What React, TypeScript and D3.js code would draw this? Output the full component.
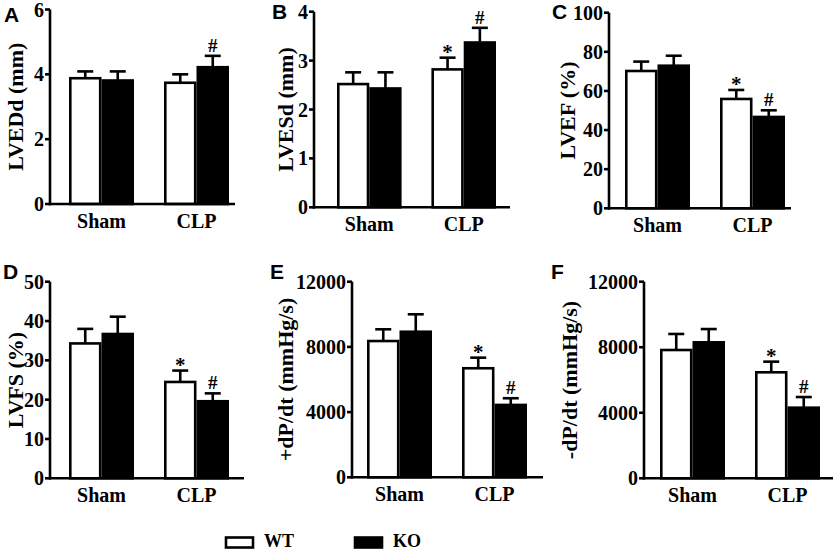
import React from "react";
import * as d3 from "d3";

const groups = ["Sham", "CLP"];
const series = ["WT", "KO"];

// values per panel: [Sham, CLP]
const lveddWT = [3.88, 3.74];
const lveddKO = [3.81, 4.22];
const lveddErrWT = [0.21, 0.26];
const lveddErrKO = [0.28, 0.35];

const lvesdWT = [2.52, 2.82];
const lvesdKO = [2.43, 3.37];
const lvesdErrWT = [0.24, 0.24];
const lvesdErrKO = [0.33, 0.3];

const lvefWT = [70.2, 55.9];
const lvefKO = [72.9, 46.7];
const lvefErrWT = [4.8, 4.6];
const lvefErrKO = [5.1, 3.4];

const lvfsWT = [34.3, 24.5];
const lvfsKO = [36.7, 19.6];
const lvfsErrWT = [3.7, 2.9];
const lvfsErrKO = [4.4, 2.0];

const dpdtPosWT = [8360, 6690];
const dpdtPosKO = [8930, 4440];
const dpdtPosErrWT = [720, 650];
const dpdtPosErrKO = [1070, 410];

const dpdtNegWT = [7830, 6470];
const dpdtNegKO = [8300, 4310];
const dpdtNegErrWT = [980, 650];
const dpdtNegErrKO = [810, 650];

// significance marks [Sham, CLP]
const marksA_WT = ["", ""];
const marksA_KO = ["", "#"];
const marksWT = ["", "*"];
const marksKO = ["", "#"];

const ticksA = [0, 2, 4, 6];
const ticksB = [0, 1, 2, 3, 4];
const ticksC = [0, 20, 40, 60, 80, 100];
const ticksD = [0, 10, 20, 30, 40, 50];
const ticksE = [0, 4000, 8000, 12000];
const ticksF = [0, 4000, 8000, 12000];

const labels = ["LVEDd (mm)", "LVESd (mm)", "LVEF (%)", "LVFS (%)", "+dP/dt (mmHg/s)", "-dP/dt (mmHg/s)"];
const letters = ["A", "B", "C", "D", "E", "F"];

type Panel = {
  letter: string;
  label: string;
  ticks: number[];
  wt: number[];
  ko: number[];
  ewt: number[];
  eko: number[];
  mwt: string[];
  mko: string[];
  layout: { x0: number; x1: number; bx0: number; bx1: number; yTop: number; yBot: number; lx: number; letX: number; letY: number };
};

const layouts = [
  { x0: 50, x1: 235, bx0: 69, bx1: 229, yTop: 9.5, yBot: 204, lx: 23, letX: 4, letY: 22 },
  { x0: 314, x1: 510, bx0: 337, bx1: 496, yTop: 11.7, yBot: 207.3, lx: 293, letX: 272, letY: 19 },
  { x0: 609, x1: 791, bx0: 625, bx1: 785, yTop: 12.7, yBot: 208.3, lx: 575, letX: 552, letY: 19 },
  { x0: 50, x1: 244, bx0: 69, bx1: 229, yTop: 281.7, yBot: 478.3, lx: 23, letX: 3, letY: 279 },
  { x0: 352, x1: 543, bx0: 367, bx1: 527, yTop: 281.7, yBot: 477.3, lx: 293, letX: 270, letY: 279 },
  { x0: 644, x1: 833, bx0: 660, bx1: 820, yTop: 281.7, yBot: 478.3, lx: 577, letX: 551, letY: 279 },
];

const panels: Panel[] = [
  { letter: letters[0], label: labels[0], ticks: ticksA, wt: lveddWT, ko: lveddKO, ewt: lveddErrWT, eko: lveddErrKO, mwt: marksA_WT, mko: marksA_KO, layout: layouts[0] },
  { letter: letters[1], label: labels[1], ticks: ticksB, wt: lvesdWT, ko: lvesdKO, ewt: lvesdErrWT, eko: lvesdErrKO, mwt: marksWT, mko: marksKO, layout: layouts[1] },
  { letter: letters[2], label: labels[2], ticks: ticksC, wt: lvefWT, ko: lvefKO, ewt: lvefErrWT, eko: lvefErrKO, mwt: marksWT, mko: marksKO, layout: layouts[2] },
  { letter: letters[3], label: labels[3], ticks: ticksD, wt: lvfsWT, ko: lvfsKO, ewt: lvfsErrWT, eko: lvfsErrKO, mwt: marksWT, mko: marksKO, layout: layouts[3] },
  { letter: letters[4], label: labels[4], ticks: ticksE, wt: dpdtPosWT, ko: dpdtPosKO, ewt: dpdtPosErrWT, eko: dpdtPosErrKO, mwt: marksWT, mko: marksKO, layout: layouts[4] },
  { letter: letters[5], label: labels[5], ticks: ticksF, wt: dpdtNegWT, ko: dpdtNegKO, ewt: dpdtNegErrWT, eko: dpdtNegErrKO, mwt: marksWT, mko: marksKO, layout: layouts[5] },
];

const SERIF = "'Liberation Serif', 'Times New Roman', serif";
const SANS = "'Liberation Sans', Arial, sans-serif";
const SW = 2.6;

function BarPanel({ p }: { p: Panel }) {
  const L = p.layout;
  const ticks = p.ticks;
  const y = d3.scaleLinear().domain([0, ticks[ticks.length - 1]]).range([L.yBot, L.yTop]);
  const xg = d3.scaleBand<string>().domain(groups).range([L.bx0, L.bx1]).paddingInner(30 / 95).paddingOuter(0);
  const xs = d3.scaleBand<string>().domain(series).range([0, xg.bandwidth()]);
  const bw = xs.bandwidth();
  const capW = 16;
  const midY = (L.yTop + L.yBot) / 2;

  const bars: React.ReactNode[] = [];
  groups.forEach((g, gi) => {
    series.forEach((s) => {
      const v = s === "WT" ? p.wt[gi] : p.ko[gi];
      const e = s === "WT" ? p.ewt[gi] : p.eko[gi];
      const m = s === "WT" ? p.mwt[gi] : p.mko[gi];
      const bx = (xg(g) as number) + (xs(s) as number);
      const cx = bx + bw / 2;
      const yv = y(v);
      const ye = y(v + e);
      const fill = s === "WT" ? "#fff" : "#000";
      bars.push(
        <g key={g + s}>
          <line x1={cx} x2={cx} y1={yv} y2={ye} stroke="#000" strokeWidth={SW} />
          <line x1={cx - capW / 2} x2={cx + capW / 2} y1={ye} y2={ye} stroke="#000" strokeWidth={SW} />
          <rect x={bx + SW / 2} y={yv} width={bw - SW} height={L.yBot - yv} fill={fill} stroke="#000" strokeWidth={SW} />
          {m && (
            <text
              x={cx}
              y={m === "*" ? ye + 1 : ye - 4}
              textAnchor="middle"
              fontFamily={SERIF}
              fontWeight="bold"
              fontSize={m === "*" ? 21 : 19}
            >
              {m}
            </text>
          )}
        </g>
      );
    });
  });

  return (
    <g>
      <text x={L.letX} y={L.letY} fontFamily={SANS} fontWeight="bold" fontSize={21}>
        {p.letter}
      </text>
      <text
        transform={`translate(${L.lx},${midY}) rotate(-90)`}
        textAnchor="middle"
        fontFamily={SERIF}
        fontWeight="bold"
        fontSize={22}
      >
        {p.label}
      </text>
      {bars}
      <line x1={L.x0} x2={L.x0} y1={L.yTop} y2={L.yBot + SW / 2} stroke="#000" strokeWidth={SW} />
      <line x1={L.x0 - SW / 2} x2={L.x1} y1={L.yBot} y2={L.yBot} stroke="#000" strokeWidth={SW} />
      {ticks.map((t) => (
        <g key={t}>
          <line x1={L.x0 - 5} x2={L.x0} y1={y(t)} y2={y(t)} stroke="#000" strokeWidth={SW} />
          <text
            x={L.x0 - 6}
            y={y(t)}
            dy="0.35em"
            textAnchor="end"
            fontFamily={SERIF}
            fontWeight="bold"
            fontSize={20}
          >
            {t}
          </text>
        </g>
      ))}
      {groups.map((g) => (
        <text
          key={g}
          x={(xg(g) as number) + xg.bandwidth() / 2}
          y={L.yBot + 24}
          textAnchor="middle"
          fontFamily={SERIF}
          fontWeight="bold"
          fontSize={20}
        >
          {g}
        </text>
      ))}
    </g>
  );
}

export default function App() {
  const legendItems = [
    { name: series[0], fill: "#fff", x: 225 },
    { name: series[1], fill: "#000", x: 354 },
  ];
  return (
    <svg
      width={837}
      height={551}
      style={{ position: "absolute", left: 0, top: 0, background: "#fff" }}
    >
      <rect width={837} height={551} fill="#fff" />
      {panels.map((p) => (
        <BarPanel key={p.letter} p={p} />
      ))}
      {legendItems.map((it) => (
        <g key={it.name}>
          <rect x={it.x + 1} y={537.5} width={27} height={10} fill={it.fill} stroke="#000" strokeWidth={SW} />
          <text x={it.x + 39} y={547} fontFamily={SERIF} fontWeight="bold" fontSize={18}>
            {it.name}
          </text>
        </g>
      ))}
    </svg>
  );
}
